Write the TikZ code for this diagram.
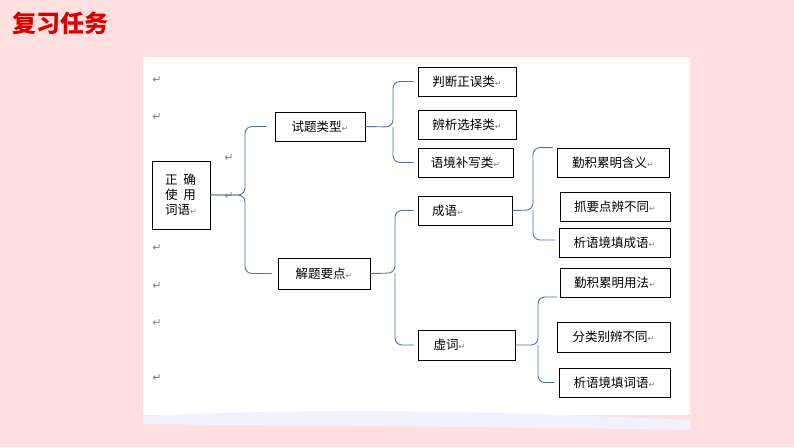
\documentclass[tikz,border=0pt]{standalone}
\usepackage{fontspec}
\newfontfamily\cjk{Noto Sans CJK SC}
\newfontfamily\cjkb{Noto Sans CJK SC Black}
\newfontfamily\dv{DejaVu Sans}
\definecolor{brc}{HTML}{4F74A8}
\newcommand{\rt}{{\dv\color{gray}\fontsize{8}{8}\selectfont ↵}}
\begin{document}
\begin{tikzpicture}[x=1pt,y=-1pt,
  bx/.style={draw=black,line width=0.9pt,inner sep=0pt,font=\cjk\fontsize{12.5}{15}\selectfont,align=left},
  br/.style={draw=brc,line width=0.9pt,rounded corners=7pt},
  rm/.style={font=\dv\fontsize{11}{11}\selectfont,text=gray,inner sep=0pt}]
\fill[red!12!white] (0,0) rectangle (794,447);
\fill[white] (143,57) rectangle (690,415);
\fill[blue!5!white] (143,416) .. controls (300,409) and (450,409) .. (690,420) -- (690,447) -- (143,447) -- cycle;
\fill[red!12!white] (143,424) .. controls (300,426) and (450,426) .. (690,430) -- (690,447) -- (143,447) -- cycle;
\useasboundingbox (0,0) rectangle (794,447);
\node[anchor=west,text=red!85!black,font=\cjkb\fontsize{24}{24}\selectfont,inner sep=0pt] (title) at (12,23) {复习任务};
\newcommand{\bxn}[6]{\node[bx,minimum width=#4-#2,minimum height=#5-#3] (#1) at ({(#2+#4)/2},{(#3+#5)/2}) {#6};}
\bxn{root}{152}{161}{210}{229}{正\ \ 确\\使\ \ 用\\词语\rt}
\bxn{a}{275}{112}{365}{141}{试题类型\rt}
\bxn{a1}{418}{67}{516}{96}{判断正误类\rt}
\bxn{a2}{418}{110}{516}{139}{辨析选择类\rt}
\bxn{a3}{418}{148}{513}{177}{语境补写类\rt}
\bxn{b}{278}{258}{370}{289}{解题要点\rt}
\bxn{b1}{418}{196}{512}{225}{成语\rt\hspace{34pt}}
\bxn{b2}{418}{330}{515}{360}{虚词\rt\hspace{34pt}}
\bxn{c1}{557}{148}{669}{177}{勤积累明含义\rt}
\bxn{c2}{560}{192}{670}{221}{抓要点辨不同\rt}
\bxn{c3}{559}{228}{670}{257}{析语境填成语\rt}
\bxn{d1}{560}{268}{670}{297}{勤积累明用法\rt}
\bxn{d2}{557}{322}{670}{352}{分类别辨不同\rt}
\bxn{d3}{559}{368}{670}{397}{析语境填词语\rt}
\draw[br] (root.east) -- (245,195) |- ([xshift=-8pt]a.west);
\draw[br] (root.east) -- (245,195) |- ([xshift=-6pt]b.west);
\draw[br] (a.east) -- (393,127) |- ([xshift=-4pt]a1.west);
\draw[br] (393,127) |- ([xshift=-4pt]a3.west);
\draw[br] (b1.east) -- (533,210) |- ([xshift=-4pt]c1.north west);
\draw[br] (533,210) |- (555,240);
\draw[br] (b.east) -- (395,273) |- ([xshift=-4pt]b1.west);
\draw[br] (395,273) |- ([xshift=-4pt]b2.west);
\draw[br] (b2.east) -- (538,345) |- (557,297);
\draw[br] (538,345) |- ([xshift=-4pt]d3.west);
\foreach \i/\yy in {1/80,2/117,3/248,4/286,5/323,6/378}{\node[rm] (r\i) at (157,\yy) {↵};}
\node[rm] (r7) at (229,158) {↵};
\node[rm] (r8) at (229,196) {↵};
\end{tikzpicture}
\end{document}
